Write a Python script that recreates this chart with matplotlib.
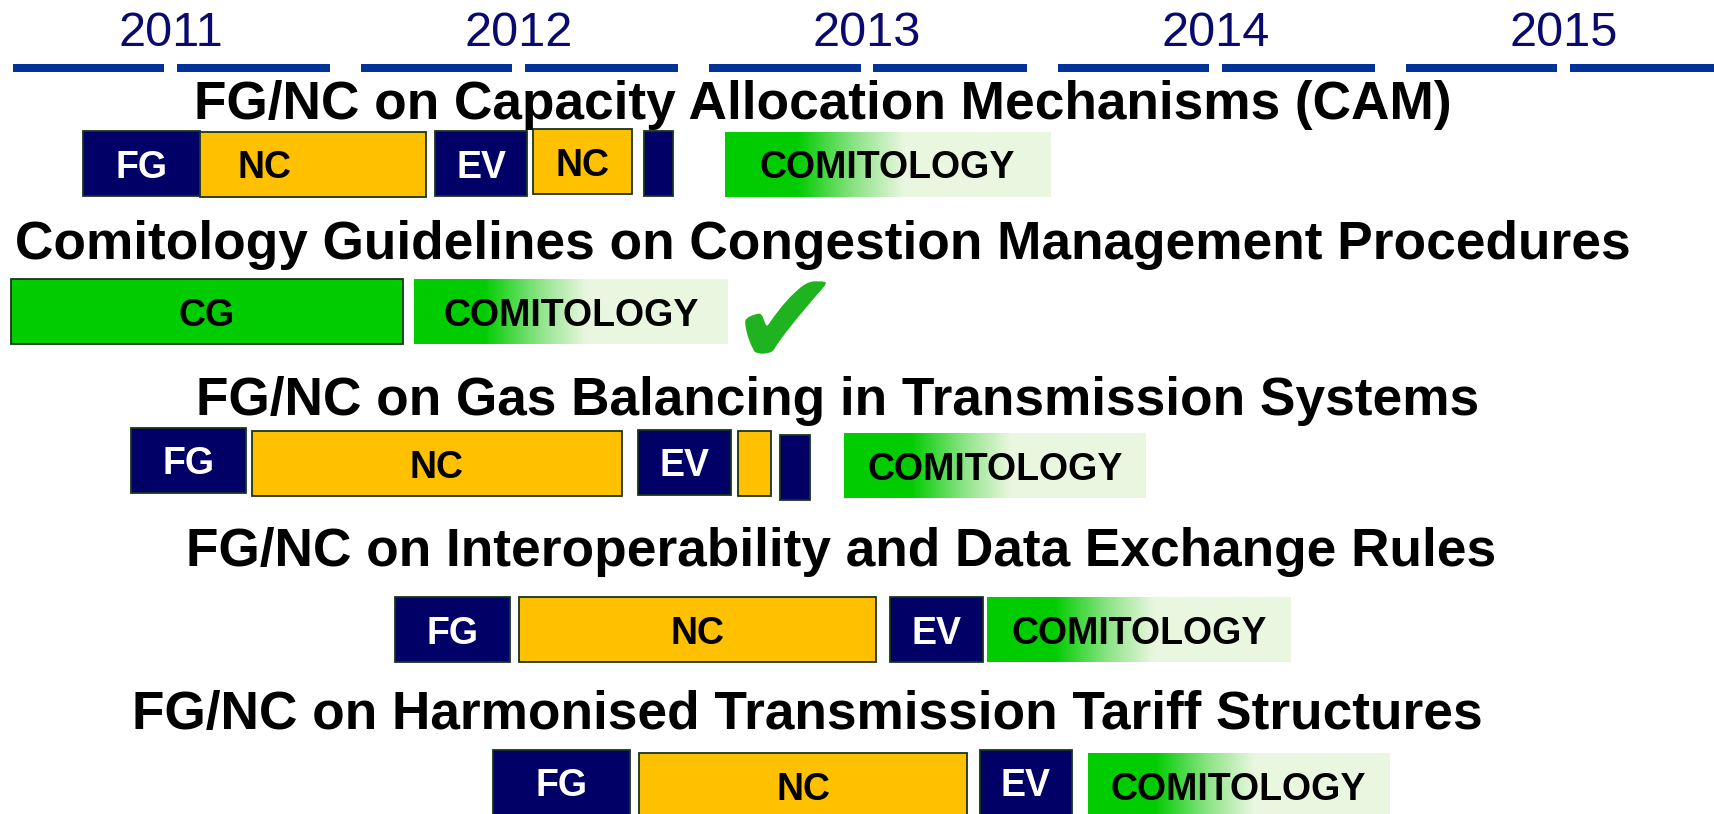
import matplotlib
matplotlib.use("Agg")
import matplotlib.pyplot as plt
import numpy as np
from matplotlib.colors import LinearSegmentedColormap
from matplotlib.transforms import blended_transform_factory

# ---------------- data (x in months since January 2011) ----------------
years = [2011, 2012, 2013, 2014, 2015]

row_titles = [
    "FG/NC on Capacity Allocation Mechanisms (CAM)",
    "Comitology Guidelines on Congestion Management Procedures",
    "FG/NC on Gas Balancing in Transmission Systems",
    "FG/NC on Interoperability and Data Exchange Rules",
    "FG/NC on Harmonised Transmission Tariff Structures",
]

cam_kind = ["FG", "NC", "EV", "NC", "EV", "COM"]
cam_label = ["FG", "NC", "EV", "NC", "", "COMITOLOGY"]
cam_start = [3.0, 7.0, 15.1, 18.5, 22.3, 25.1]
cam_end = [7.0, 14.8, 18.3, 21.9, 23.3, 36.3]

cmp_kind = ["CG", "COM"]
cmp_label = ["CG", "COMITOLOGY"]
cmp_start = [0.5, 14.4]
cmp_end = [14.0, 25.2]
cmp_done_month = 27.17

bal_kind = ["FG", "NC", "EV", "NC", "EV", "COM"]
bal_label = ["FG", "NC", "EV", "", "", "COMITOLOGY"]
bal_start = [4.65, 8.8, 22.1, 25.55, 27.0, 29.2]
bal_end = [8.6, 21.55, 25.3, 26.7, 28.05, 39.6]

int_kind = ["FG", "NC", "EV", "COM"]
int_label = ["FG", "NC", "EV", "COMITOLOGY"]
int_start = [13.75, 18.0, 30.8, 34.15]
int_end = [17.7, 30.3, 34.0, 44.6]

tar_kind = ["FG", "NC", "EV", "COM"]
tar_label = ["FG", "NC", "EV", "COMITOLOGY"]
tar_start = [17.1, 22.15, 33.9, 37.6]
tar_end = [21.85, 33.45, 37.05, 48.0]

# ---------------- layout (pixels) ----------------
W, H = 1714, 814
PX_PER_MONTH = 29.02
X0_PX = -3.6            # pixel position of 1 Jan 2011

title_x = [823, 823, 838, 841, 807]
title_base = [119, 259, 415, 566, 729]
bar_h = 65
row_tops = [
    [131, 132, 131, 129, 131, 132],
    [279, 279],
    [428, 431, 430, 431, 435, 433],
    [597, 597, 597, 597],
    [750, 753, 750, 753],
]
label_dx = [
    [0, -1.65, 0, 0, 0, 0],
    [0, 0],
    [0, 0, 0, 0, 0, 0],
    [0, 0, 0, 0],
    [0, 0, 0, 0],
]

NAVY = "#000066"
YEL = "#FFC000"
GREEN = "#00CC00"
PALE = "#EAF7E0"
EDGE = "#17361A"
face = {"FG": NAVY, "EV": NAVY, "NC": YEL, "CG": GREEN}
txtcol = {"FG": "white", "EV": "white", "NC": "black", "CG": "black", "COM": "black"}

grad = LinearSegmentedColormap.from_list(
    "comit", [(0.0, GREEN), (0.22, GREEN), (0.40, "#8EE488"), (0.55, PALE), (1.0, PALE)])

fig = plt.figure(figsize=(W / 100, H / 100), dpi=100)
ax = fig.add_axes([0, 0, 1, 1])
ax.set_xlim((0 - X0_PX) / PX_PER_MONTH, (W - X0_PX) / PX_PER_MONTH)
ax.set_ylim(H, 0)
ax.axis("off")
tb = blended_transform_factory(fig.transFigure, ax.transData)

BOXFONT = dict(family="Liberation Sans", fontweight="bold", fontsize=27)

# timeline
for i, y in enumerate(years):
    base = 12 * i
    for a, b in [(base + 0.57, base + 5.78), (base + 6.22, base + 11.5)]:
        ax.add_patch(plt.Rectangle((a, 64), b - a, 8, facecolor="#003399",
                                   edgecolor="none"))
    ax.text(base + 6, 33, str(y), ha="center", va="center", color="#0A0A6E",
            family=["Liberation Sans Narrow", "Liberation Sans"], fontsize=35)

rows = [
    (cam_kind, cam_label, cam_start, cam_end),
    (cmp_kind, cmp_label, cmp_start, cmp_end),
    (bal_kind, bal_label, bal_start, bal_end),
    (int_kind, int_label, int_start, int_end),
    (tar_kind, tar_label, tar_start, tar_end),
]

for r, (kinds, labels, starts, ends) in enumerate(rows):
    ax.text(title_x[r] / W, title_base[r], row_titles[r], transform=tb,
            ha="center", va="baseline", family="Liberation Sans",
            fontweight="bold", fontsize=38.3, color="black")
    for j, (k, lab, s, e) in enumerate(zip(kinds, labels, starts, ends)):
        top = row_tops[r][j]
        if k == "COM":
            gimg = np.linspace(0, 1, 256).reshape(1, -1)
            ax.imshow(gimg, cmap=grad, extent=[s, e, top + bar_h, top],
                      aspect="auto", interpolation="bilinear", zorder=2)
        else:
            ax.add_patch(plt.Rectangle((s, top), e - s, bar_h, facecolor=face[k],
                                       edgecolor=EDGE, linewidth=1.3, zorder=2))
        if lab:
            ax.text((s + e) / 2 + label_dx[r][j], top + bar_h / 2 + 14, lab,
                    ha="center", va="baseline", color=txtcol[k], zorder=3, **BOXFONT)

# check mark for the completed comitology guidelines (drawn as a marker)
ax.plot([cmp_done_month], [317], linestyle="none", marker="$\u2714$",
        markersize=58, color="#1FB41F", markeredgewidth=0, zorder=3)

ax.set_xlim((0 - X0_PX) / PX_PER_MONTH, (W - X0_PX) / PX_PER_MONTH)
ax.set_ylim(H, 0)
fig.savefig("out.png", dpi=100)
